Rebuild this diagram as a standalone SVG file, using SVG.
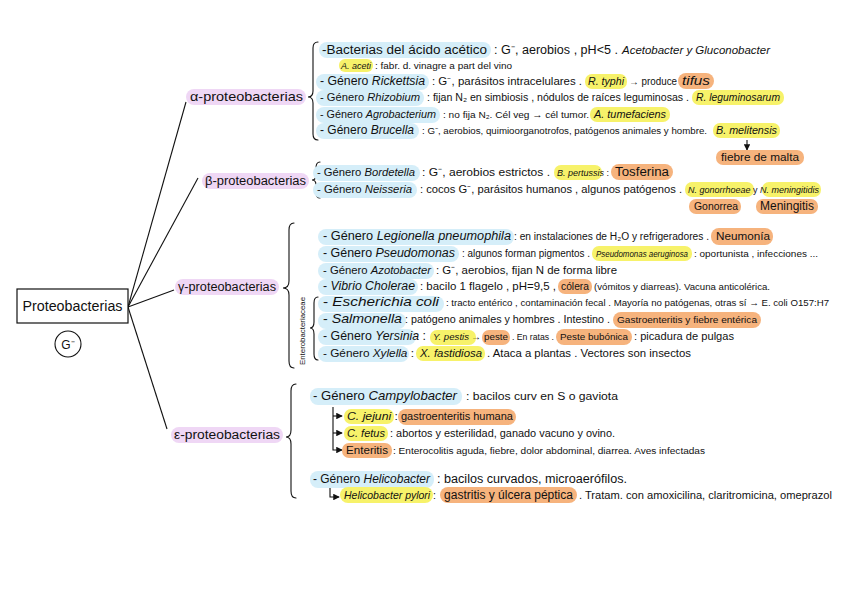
<svg xmlns="http://www.w3.org/2000/svg" width="848" height="599" viewBox="0 0 848 599" font-size="11">
<style>
text{font-family:"Liberation Sans",Arial,sans-serif;fill:#111}
.i{font-style:italic}
.hb{fill:#d5eef9}
.hy{fill:#f7f26a}
.ho{fill:#f6b37d}
.hp{fill:#efd7f5}
.ln{fill:none;stroke:#111;stroke-width:1.1}
.br{fill:none;stroke:#111;stroke-width:1.1;stroke-linecap:round}
</style>
<defs>
<marker id="ah" viewBox="0 0 8 8" refX="7" refY="4" markerWidth="6" markerHeight="6" orient="auto"><path d="M0,0 L8,4 L0,8 z" fill="#111"/></marker>
</defs>
<rect width="848" height="599" fill="#fff"/>

<g id="connectors">
<path class="ln" d="M128,307 L186,102"/>
<path class="ln" d="M128,307 L198,178"/>
<path class="ln" d="M128,307 L174,290"/>
<path class="ln" d="M128,307 L167,429"/>
<path class="br" d="M318,42 Q313,42 313,48 L313,91 Q313,97 308,97 Q313,97 313,103 L313,134 Q313,140 318,140"/>
<path class="br" d="M320,162 Q316,162 316,168 L316,175 Q316,180 312,180 Q316,180 316,185 L316,192 Q316,198 320,198"/>
<path class="br" d="M294,223 Q289,223 289,230 L289,281 Q289,288 283,288 Q289,288 289,295 L289,361 Q289,368 294,368"/>
<path class="br" d="M318,297 Q314,297 314,303 L314,322 Q314,328 310,328 Q314,328 314,334 L314,354 Q314,360 318,360"/>
<path class="br" d="M296,384 Q291,384 291,391 L291,430 Q291,437 286,437 Q291,437 291,444 L291,491 Q291,498 296,498"/>
<path class="ln" d="M333,407 L333,450 L342,450" marker-end="url(#ah)"/>
<path class="ln" d="M333,416 L342,416" marker-end="url(#ah)"/>
<path class="ln" d="M333,433 L342,433" marker-end="url(#ah)"/>
<path class="ln" d="M330,488 L330,497 L339,497" marker-end="url(#ah)"/>
<path class="ln" d="M747,140 L747,150" marker-end="url(#ah)"/>
</g>

<g id="root">
<rect x="17" y="289" width="111" height="34" fill="#fff" stroke="#111" stroke-width="1.2"/>
<text x="72.5" y="311" text-anchor="middle" font-size="14" textLength="100" lengthAdjust="spacingAndGlyphs">Proteobacterias</text>
<circle cx="68" cy="344" r="13" fill="none" stroke="#111" stroke-width="1.1"/>
<text x="68" y="349" text-anchor="middle" font-size="12">G⁻</text>
</g>

<g id="alpha">
<rect class="hp" x="186" y="89" width="120" height="16" rx="8"/>
<text x="190" y="101" font-size="13" textLength="113" lengthAdjust="spacingAndGlyphs">α-proteobacterias</text>
</g>
<g id="beta">
<rect class="hp" x="202" y="173" width="107" height="16" rx="8"/>
<text x="205" y="185" font-size="12" textLength="101" lengthAdjust="spacingAndGlyphs">β-proteobacterias</text>
</g>
<g id="gamma">
<rect class="hp" x="175" y="279" width="104" height="16" rx="8"/>
<text x="178" y="291" font-size="12" textLength="98" lengthAdjust="spacingAndGlyphs">γ-proteobacterias</text>
</g>
<g id="epsilon">
<rect class="hp" x="171" y="427" width="112" height="16" rx="8"/>
<text x="174" y="439" font-size="12.5" textLength="106" lengthAdjust="spacingAndGlyphs">ε-proteobacterias</text>
</g>

<g id="alpha-items">
<rect class="hb" x="319" y="42" width="172" height="16" rx="8"/>
<text x="322" y="54" font-size="12" textLength="165" lengthAdjust="spacingAndGlyphs">-Bacterias del ácido acético</text>
<text x="494" y="54" font-size="12" textLength="124" lengthAdjust="spacingAndGlyphs">: G⁻, aerobios , pH&lt;5 .</text>
<text class="i" x="622" y="54" font-size="11.5" textLength="148" lengthAdjust="spacingAndGlyphs">Acetobacter y Gluconobacter</text>
<rect class="hy" x="339" y="59" width="34" height="13" rx="6"/>
<text class="i" x="341" y="69" font-size="9" textLength="30" lengthAdjust="spacingAndGlyphs">A. aceti</text>
<text x="375" y="69" font-size="9" textLength="137" lengthAdjust="spacingAndGlyphs">: fabr. d. vinagre a part del vino</text>

<rect class="hb" x="316" y="74" width="113" height="16" rx="8"/>
<text x="320" y="85" font-size="12" textLength="105" lengthAdjust="spacingAndGlyphs">- Género <tspan class="i">Rickettsia</tspan></text>
<text x="432" y="85" font-size="10.5" textLength="150" lengthAdjust="spacingAndGlyphs">: G⁻, parásitos intracelulares .</text>
<rect class="hy" x="585" y="74" width="42" height="15" rx="7"/>
<text class="i" x="588" y="85" font-size="10.5" textLength="36" lengthAdjust="spacingAndGlyphs">R. typhi</text>
<text x="629" y="85" font-size="10" textLength="48" lengthAdjust="spacingAndGlyphs">→ produce</text>
<rect class="ho" x="678" y="73" width="36" height="16" rx="8"/>
<text class="i" x="682" y="85" font-size="13.5" textLength="28" lengthAdjust="spacingAndGlyphs">tifus</text>

<rect class="hb" x="316" y="90" width="108" height="16" rx="8"/>
<text x="320" y="101" font-size="11.2" textLength="100" lengthAdjust="spacingAndGlyphs">- Género <tspan class="i">Rhizobium</tspan></text>
<text x="427" y="101" font-size="10.5" textLength="262" lengthAdjust="spacingAndGlyphs">: fijan N₂ en simbiosis , nódulos de raíces leguminosas .</text>
<rect class="hy" x="692" y="90" width="92" height="15" rx="7"/>
<text class="i" x="696" y="101" font-size="10.4" textLength="84" lengthAdjust="spacingAndGlyphs">R. leguminosarum</text>

<rect class="hb" x="316" y="107" width="124" height="16" rx="8"/>
<text x="320" y="118" font-size="10.8" textLength="116" lengthAdjust="spacingAndGlyphs">- Género <tspan class="i">Agrobacterium</tspan></text>
<text x="443" y="118" font-size="9.4" textLength="146" lengthAdjust="spacingAndGlyphs">: no fija N₂. Cél veg → cél tumor.</text>
<rect class="hy" x="590" y="107" width="80" height="15" rx="7"/>
<text class="i" x="594" y="118" font-size="10.8" textLength="72" lengthAdjust="spacingAndGlyphs">A. tumefaciens</text>

<rect class="hb" x="316" y="123" width="103" height="16" rx="8"/>
<text x="320" y="134" font-size="12" textLength="94" lengthAdjust="spacingAndGlyphs">- Género <tspan class="i">Brucella</tspan></text>
<text x="422" y="134" font-size="9.6" textLength="285" lengthAdjust="spacingAndGlyphs">: G⁻, aerobios, quimioorganotrofos, patógenos animales y hombre.</text>
<rect class="hy" x="713" y="123" width="67" height="15" rx="7"/>
<text class="i" x="716" y="134" font-size="10.8" textLength="61" lengthAdjust="spacingAndGlyphs">B. melitensis</text>
<rect class="ho" x="716" y="150" width="88" height="15" rx="7"/>
<text x="721" y="161" font-size="11.8" textLength="78" lengthAdjust="spacingAndGlyphs">fiebre de malta</text>
</g>

<g id="beta-items">
<rect class="hb" x="313" y="165" width="107" height="16" rx="8"/>
<text x="317" y="176" font-size="11.2" textLength="98" lengthAdjust="spacingAndGlyphs">- Género <tspan class="i">Bordetella</tspan></text>
<text x="422" y="176" font-size="11.5" textLength="128" lengthAdjust="spacingAndGlyphs">: G⁻, aerobios estrictos .</text>
<rect class="hy" x="554" y="165" width="48" height="15" rx="7"/>
<text x="557" y="176" font-size="9" textLength="52" lengthAdjust="spacingAndGlyphs"><tspan class="i">B. pertussis</tspan> :</text>
<rect class="ho" x="611" y="164" width="62" height="16" rx="8"/>
<text x="615" y="176" font-size="12.5" textLength="54" lengthAdjust="spacingAndGlyphs">Tosferina</text>

<rect class="hb" x="313" y="182" width="104" height="16" rx="8"/>
<text x="317" y="193" font-size="11.3" textLength="95" lengthAdjust="spacingAndGlyphs">- Género <tspan class="i">Neisseria</tspan></text>
<text x="420" y="193" font-size="11" textLength="262" lengthAdjust="spacingAndGlyphs">: cocos G⁻, parásitos humanos , algunos patógenos .</text>
<rect class="hy" x="685" y="182" width="69" height="15" rx="7"/>
<rect class="hy" x="762" y="182" width="59" height="15" rx="7"/>
<text x="688" y="193" font-size="9" textLength="131" lengthAdjust="spacingAndGlyphs"><tspan class="i">N. gonorrhoeae</tspan> y <tspan class="i">N. meningitidis</tspan></text>
<rect class="ho" x="689" y="199" width="52" height="15" rx="7"/>
<text x="694" y="210" font-size="10.4" textLength="44" lengthAdjust="spacingAndGlyphs">Gonorrea</text>
<rect class="ho" x="756" y="199" width="62" height="15" rx="7"/>
<text x="760" y="210" font-size="12" textLength="54" lengthAdjust="spacingAndGlyphs">Meningitis</text>
</g>

<g id="gamma-items">
<rect class="hb" x="318" y="229" width="196" height="16" rx="8"/>
<text x="323" y="240" font-size="12.5" textLength="188" lengthAdjust="spacingAndGlyphs">- Género <tspan class="i">Legionella pneumophila</tspan></text>
<text x="514" y="240" font-size="10" textLength="195" lengthAdjust="spacingAndGlyphs">: en instalaciones de H₂O y refrigeradores .</text>
<rect class="ho" x="711" y="228" width="62" height="17" rx="8"/>
<text x="716" y="240" font-size="11.8" textLength="54" lengthAdjust="spacingAndGlyphs">Neumonía</text>

<rect class="hb" x="318" y="246" width="141" height="16" rx="8"/>
<text x="323" y="257" font-size="12.5" textLength="132" lengthAdjust="spacingAndGlyphs">- Género <tspan class="i">Pseudomonas</tspan></text>
<text x="462" y="257" font-size="10.2" textLength="128" lengthAdjust="spacingAndGlyphs">: algunos forman pigmentos .</text>
<rect class="hy" x="592" y="246" width="100" height="15" rx="7"/>
<text class="i" x="596" y="257" font-size="8.2" textLength="92" lengthAdjust="spacingAndGlyphs">Pseudomonas aeruginosa</text>
<text x="694" y="257" font-size="9.5" textLength="124" lengthAdjust="spacingAndGlyphs">: oportunista , infecciones ...</text>

<rect class="hb" x="318" y="263" width="116" height="16" rx="8"/>
<text x="323" y="274" font-size="11.4" textLength="108" lengthAdjust="spacingAndGlyphs">- Género <tspan class="i">Azotobacter</tspan></text>
<text x="436" y="274" font-size="11.4" textLength="181" lengthAdjust="spacingAndGlyphs">: G⁻, aerobios, fijan N de forma libre</text>

<rect class="hb" x="318" y="279" width="100" height="16" rx="8"/>
<text x="323" y="290" font-size="12" textLength="92" lengthAdjust="spacingAndGlyphs">- <tspan class="i">Vibrio Cholerae</tspan></text>
<text x="420" y="290" font-size="11.4" textLength="136" lengthAdjust="spacingAndGlyphs">: bacilo 1 flagelo , pH=9,5 ,</text>
<rect class="ho" x="558" y="279" width="34" height="15" rx="7"/>
<text x="561" y="290" font-size="10.3" textLength="28" lengthAdjust="spacingAndGlyphs">cólera</text>
<text x="594" y="290" font-size="9.3" textLength="176" lengthAdjust="spacingAndGlyphs">(vómitos y diarreas). Vacuna anticolérica.</text>

<rect class="hb" x="318" y="296" width="126" height="16" rx="8"/>
<text x="323" y="306" font-size="13" textLength="116" lengthAdjust="spacingAndGlyphs">- <tspan class="i">Escherichia coli</tspan></text>
<text x="446" y="306" font-size="9.5" textLength="383" lengthAdjust="spacingAndGlyphs">: tracto entérico , contaminación fecal . Mayoría no patógenas, otras sí → E. coli O157:H7</text>

<rect class="hb" x="318" y="313" width="88" height="16" rx="8"/>
<text x="323" y="323" font-size="13" textLength="79" lengthAdjust="spacingAndGlyphs">- <tspan class="i">Salmonella</tspan></text>
<text x="405" y="323" font-size="10.6" textLength="205" lengthAdjust="spacingAndGlyphs">: patógeno animales y hombres . Intestino .</text>
<rect class="ho" x="613" y="312" width="148" height="16" rx="8"/>
<text x="617" y="323" font-size="9.5" textLength="140" lengthAdjust="spacingAndGlyphs">Gastroenteritis y fiebre entérica</text>

<rect class="hb" x="318" y="329" width="98" height="16" rx="8"/>
<text x="323" y="340" font-size="12.2" textLength="103" lengthAdjust="spacingAndGlyphs">- Género <tspan class="i">Yersinia</tspan> :</text>
<rect class="hy" x="430" y="330" width="46" height="15" rx="7"/>
<text class="i" x="433" y="340" font-size="9.4" textLength="36" lengthAdjust="spacingAndGlyphs">Y. pestis</text>
<text x="471" y="340" font-size="10">→</text>
<rect class="ho" x="482" y="330" width="28" height="15" rx="7"/>
<text x="484" y="340" font-size="9.8" textLength="24" lengthAdjust="spacingAndGlyphs">peste</text>
<text x="512" y="340" font-size="8.7" textLength="42" lengthAdjust="spacingAndGlyphs">. En ratas .</text>
<rect class="ho" x="556" y="329" width="76" height="16" rx="8"/>
<text x="560" y="340" font-size="9.9" textLength="68" lengthAdjust="spacingAndGlyphs">Peste bubónica</text>
<text x="634" y="340" font-size="11.4" textLength="100" lengthAdjust="spacingAndGlyphs">: picadura de pulgas</text>

<rect class="hb" x="318" y="346" width="91" height="16" rx="8"/>
<text x="323" y="357" font-size="11.8" textLength="91" lengthAdjust="spacingAndGlyphs">- Género <tspan class="i">Xylella</tspan> :</text>
<rect class="hy" x="416" y="346" width="69" height="15" rx="7"/>
<text class="i" x="420" y="357" font-size="11.4" textLength="62" lengthAdjust="spacingAndGlyphs">X. fastidiosa</text>
<text x="487" y="357" font-size="11" textLength="204" lengthAdjust="spacingAndGlyphs">. Ataca a plantas . Vectores son insectos</text>

<text transform="translate(305,365) rotate(-90)" font-size="7.8" textLength="68" lengthAdjust="spacingAndGlyphs">Enterobacteriaceae</text>
</g>

<g id="epsilon-items">
<rect class="hb" x="310" y="388" width="152" height="17" rx="8"/>
<text x="313" y="400" font-size="13" textLength="144" lengthAdjust="spacingAndGlyphs">- Género <tspan class="i">Campylobacter</tspan></text>
<text x="466" y="400" font-size="11.7" textLength="152" lengthAdjust="spacingAndGlyphs">: bacilos curv en S o gaviota</text>

<rect class="hy" x="344" y="409" width="50" height="15" rx="7"/>
<text x="347" y="420" font-size="11" textLength="51" lengthAdjust="spacingAndGlyphs"><tspan class="i">C. jejuni</tspan> :</text>
<rect class="ho" x="398" y="409" width="118" height="16" rx="8"/>
<text x="401" y="420" font-size="11.2" textLength="112" lengthAdjust="spacingAndGlyphs">gastroenteritis humana</text>

<rect class="hy" x="344" y="426" width="44" height="15" rx="7"/>
<text class="i" x="347" y="437" font-size="11" textLength="38" lengthAdjust="spacingAndGlyphs">C. fetus</text>
<text x="390" y="437" font-size="10.7" textLength="225" lengthAdjust="spacingAndGlyphs">: abortos y esterilidad, ganado vacuno y ovino.</text>

<rect class="ho" x="342" y="443" width="50" height="15" rx="7"/>
<text x="346" y="454" font-size="11.6" textLength="42" lengthAdjust="spacingAndGlyphs">Enteritis</text>
<text x="393" y="454" font-size="9.6" textLength="312" lengthAdjust="spacingAndGlyphs">: Enterocolitis aguda, fiebre, dolor abdominal, diarrea. Aves infectadas</text>

<rect class="hb" x="310" y="471" width="124" height="17" rx="8"/>
<text x="313" y="483" font-size="12" textLength="117" lengthAdjust="spacingAndGlyphs">- Género <tspan class="i">Helicobacter</tspan></text>
<text x="437" y="483" font-size="12" textLength="190" lengthAdjust="spacingAndGlyphs">: bacilos curvados, microaerófilos.</text>

<rect class="hy" x="340" y="487" width="93" height="16" rx="8"/>
<text x="344" y="499" font-size="10.3" textLength="92" lengthAdjust="spacingAndGlyphs"><tspan class="i">Helicobacter pylori</tspan> :</text>
<rect class="ho" x="440" y="487" width="137" height="16" rx="8"/>
<text x="444" y="499" font-size="12" textLength="129" lengthAdjust="spacingAndGlyphs">gastritis y úlcera péptica</text>
<text x="579" y="499" font-size="11" textLength="253" lengthAdjust="spacingAndGlyphs">. Tratam. con amoxicilina, claritromicina, omeprazol</text>
</g>
</svg>
